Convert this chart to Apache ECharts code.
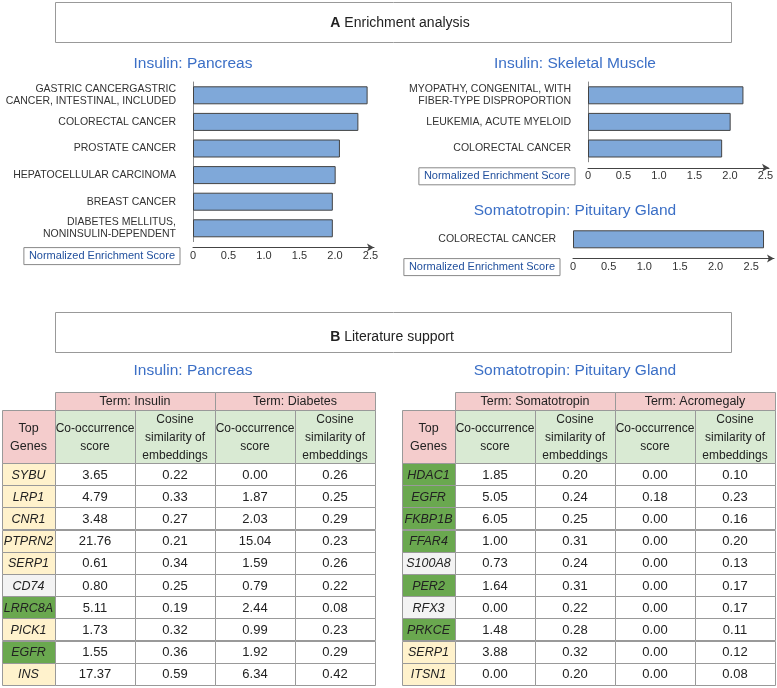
<!DOCTYPE html>
<html>
<head>
<meta charset="utf-8">
<script src="https://cdn.jsdelivr.net/npm/echarts@6/dist/echarts.min.js"></script>
<style>
html, body { margin: 0; padding: 0; background: #fff; }
#main { width: 777px; height: 688px; }
</style>
</head>
<body>
<div id="main"></div>
<script>
// A: enrichment analysis
const pancreasTerms = ['GASTRIC CANCERGASTRIC\nCANCER, INTESTINAL, INCLUDED', 'COLORECTAL CANCER', 'PROSTATE CANCER',
  'HEPATOCELLULAR CARCINOMA', 'BREAST CANCER', 'DIABETES MELLITUS,\nNONINSULIN-DEPENDENT'];
const pancreasNES = [2.46, 2.33, 2.07, 2.01, 1.97, 1.97];
const muscleTerms = ['MYOPATHY, CONGENITAL, WITH\nFIBER-TYPE DISPROPORTION', 'LEUKEMIA, ACUTE MYELOID', 'COLORECTAL CANCER'];
const muscleNES = [2.19, 2.01, 1.89];
const pituitaryTerms = ['COLORECTAL CANCER'];
const pituitaryNES = [2.68];

// B: literature support
const pancreasGenes = ['SYBU', 'LRP1', 'CNR1', 'PTPRN2', 'SERP1', 'CD74', 'LRRC8A', 'PICK1', 'EGFR', 'INS'];
const pancreasGeneKind = ['y', 'y', 'y', 'y', 'y', 'n', 'g', 'y', 'g', 'y'];
const insulinCooc = [3.65, 4.79, 3.48, 21.76, 0.61, 0.80, 5.11, 1.73, 1.55, 17.37];
const insulinCos = [0.22, 0.33, 0.27, 0.21, 0.34, 0.25, 0.19, 0.32, 0.36, 0.59];
const diabetesCooc = [0.00, 1.87, 2.03, 15.04, 1.59, 0.79, 2.44, 0.99, 1.92, 6.34];
const diabetesCos = [0.26, 0.25, 0.29, 0.23, 0.26, 0.22, 0.08, 0.23, 0.29, 0.42];

const pituitaryGenes = ['HDAC1', 'EGFR', 'FKBP1B', 'FFAR4', 'S100A8', 'PER2', 'RFX3', 'PRKCE', 'SERP1', 'ITSN1'];
const pituitaryGeneKind = ['g', 'g', 'g', 'g', 'n', 'g', 'n', 'g', 'y', 'y'];
const somatoCooc = [1.85, 5.05, 6.05, 1.00, 0.73, 1.64, 0.00, 1.48, 3.88, 0.00];
const somatoCos = [0.20, 0.24, 0.25, 0.31, 0.24, 0.31, 0.22, 0.28, 0.32, 0.20];
const acroCooc = [0.00, 0.18, 0.00, 0.00, 0.00, 0.00, 0.00, 0.00, 0.00, 0.00];
const acroCos = [0.10, 0.23, 0.16, 0.20, 0.13, 0.17, 0.17, 0.11, 0.12, 0.08];

const FONT = '"Liberation Sans", Arial, sans-serif';
const BLUE = '#3b6fc6';
const kindColor = { y: '#fff2cc', g: '#6aa84f', n: '#f3f3f3' };

let chart = echarts.init(document.getElementById('main'));

// one horizontal bar panel
let grids = [], xAxes = [], yAxes = [], series = [];
function addPanel(cats, vals, left, top, width, max, yLine) {
  let i = grids.length;
  grids.push({ left: left, top: top, width: width, height: cats.length * 26.6 });
  yAxes.push({
    type: 'category', gridIndex: i, data: cats, inverse: true,
    axisTick: { show: false },
    axisLine: { show: yLine, lineStyle: { color: '#888' } },
    axisLabel: { fontSize: 10.5, color: '#333', margin: 17, lineHeight: 12, fontFamily: FONT }
  });
  xAxes.push({
    type: 'value', gridIndex: i, min: 0, max: max, interval: 0.5, offset: 6,
    splitLine: { show: false }, axisTick: { show: false },
    axisLine: { show: true, symbol: ['none', 'arrow'], symbolSize: [6, 7], lineStyle: { color: '#444' } },
    axisLabel: {
      fontSize: 11, color: '#333', margin: 3, fontFamily: FONT,
      formatter: function (v) {
        if (Math.abs(v / 0.5 - Math.round(v / 0.5)) > 1e-6) return '';
        return v === 0 ? '0' : v.toFixed(1);
      }
    },
    name: 'Normalized Enrichment Score', nameLocation: 'start', nameGap: 13,
    nameTextStyle: {
      color: '#1f4e9c', fontSize: 11, fontFamily: FONT, borderColor: '#888', borderWidth: 1,
      padding: [3, 5, 3, 5], verticalAlign: 'top', align: 'right'
    }
  });
  series.push({
    type: 'bar', xAxisIndex: i, yAxisIndex: i, data: vals, barWidth: 18, silent: true,
    itemStyle: { color: '#7fa8d9', borderColor: '#444', borderWidth: 1 }
  });
}
addPanel(pancreasTerms, pancreasNES, 193, 82, 181, 2.55, true);
addPanel(muscleTerms, muscleNES, 588, 82, 181, 2.55, true);
addPanel(pituitaryTerms, pituitaryNES, 573, 226, 202, 2.82, false);

// tables
function buildTable(x0, y0, genes, kinds, terms, cols) {
  let els = [];
  const gw = 53, cw = 80, h1 = 18, h2 = 53, rh = 22.2;
  const line = '#999';
  function cell(x, y, w, h, fill, text, ts) {
    els.push({ type: 'rect', shape: { x: Math.round(x) + 0.5, y: Math.round(y) + 0.5, width: Math.round(w), height: Math.round(h) },
      style: { fill: fill, stroke: line, lineWidth: 1 }, silent: true });
    els.push({ type: 'text', silent: true, style: Object.assign({
      text: text, x: x + w / 2, y: y + h / 2 + 1, align: 'center', verticalAlign: 'middle',
      fontSize: 12.5, fill: '#222', fontFamily: FONT }, ts || {}) });
  }
  terms.forEach(function (t, k) {
    cell(x0 + gw + k * 2 * cw, y0, 2 * cw, h1, '#f4cccc', 'Term: ' + t);
  });
  cell(x0, y0 + h1, gw, h2, '#f4cccc', 'Top\nGenes', { lineHeight: 18 });
  for (let c = 0; c < 4; c++) {
    cell(x0 + gw + c * cw, y0 + h1, cw, h2, '#d9ead3',
      c % 2 === 0 ? 'Co-occurrence\nscore' : 'Cosine\nsimilarity of\nembeddings', { lineHeight: 18, fontSize: 12 });
  }
  genes.forEach(function (g, r) {
    let y = y0 + h1 + h2 + r * rh;
    cell(x0, y, gw, rh, kindColor[kinds[r]], g, { fontStyle: 'italic' });
    cols.forEach(function (col, c) {
      cell(x0 + gw + c * cw, y, cw, rh, '#fff', col[r].toFixed(2), { fontSize: 13 });
    });
  });
  return els;
}

let graphics = [
  { type: 'rect', shape: { x: 55.5, y: 2.5, width: 676, height: 40 }, style: { fill: 'none', stroke: '#999', lineWidth: 1 } },
  { type: 'text', style: { text: '{b|A} Enrichment analysis', x: 400, y: 23, align: 'center', verticalAlign: 'middle',
    fontSize: 14, fill: '#222', fontFamily: FONT, rich: { b: { fontWeight: 'bold', fontSize: 14, fontFamily: FONT } } } },
  { type: 'rect', shape: { x: 55.5, y: 312.5, width: 676, height: 40 }, style: { fill: 'none', stroke: '#999', lineWidth: 1 } },
  { type: 'text', style: { text: '{b|B} Literature support', x: 392, y: 337, align: 'center', verticalAlign: 'middle',
    fontSize: 14, fill: '#222', fontFamily: FONT, rich: { b: { fontWeight: 'bold', fontSize: 14, fontFamily: FONT } } } }
];
graphics = graphics.concat(
  buildTable(2, 392, pancreasGenes, pancreasGeneKind, ['Insulin', 'Diabetes'],
    [insulinCooc, insulinCos, diabetesCooc, diabetesCos]),
  buildTable(402, 392, pituitaryGenes, pituitaryGeneKind, ['Somatotropin', 'Acromegaly'],
    [somatoCooc, somatoCos, acroCooc, acroCos])
);

function title(text, x, y) {
  return { text: text, left: x, top: y, textAlign: 'center', textVerticalAlign: 'middle', padding: 0,
    textStyle: { color: BLUE, fontSize: 15.5, fontWeight: 'normal', fontFamily: FONT } };
}

let option = {
  animation: false,
  textStyle: { fontFamily: FONT },
  title: [
    title('Insulin: Pancreas', 193, 64),
    title('Insulin: Skeletal Muscle', 575, 64),
    title('Somatotropin: Pituitary Gland', 575, 211),
    title('Insulin: Pancreas', 193, 371),
    title('Somatotropin: Pituitary Gland', 575, 371)
  ],
  grid: grids,
  xAxis: xAxes,
  yAxis: yAxes,
  series: series,
  graphic: graphics
};
chart.setOption(option);
</script>
</body>
</html>
